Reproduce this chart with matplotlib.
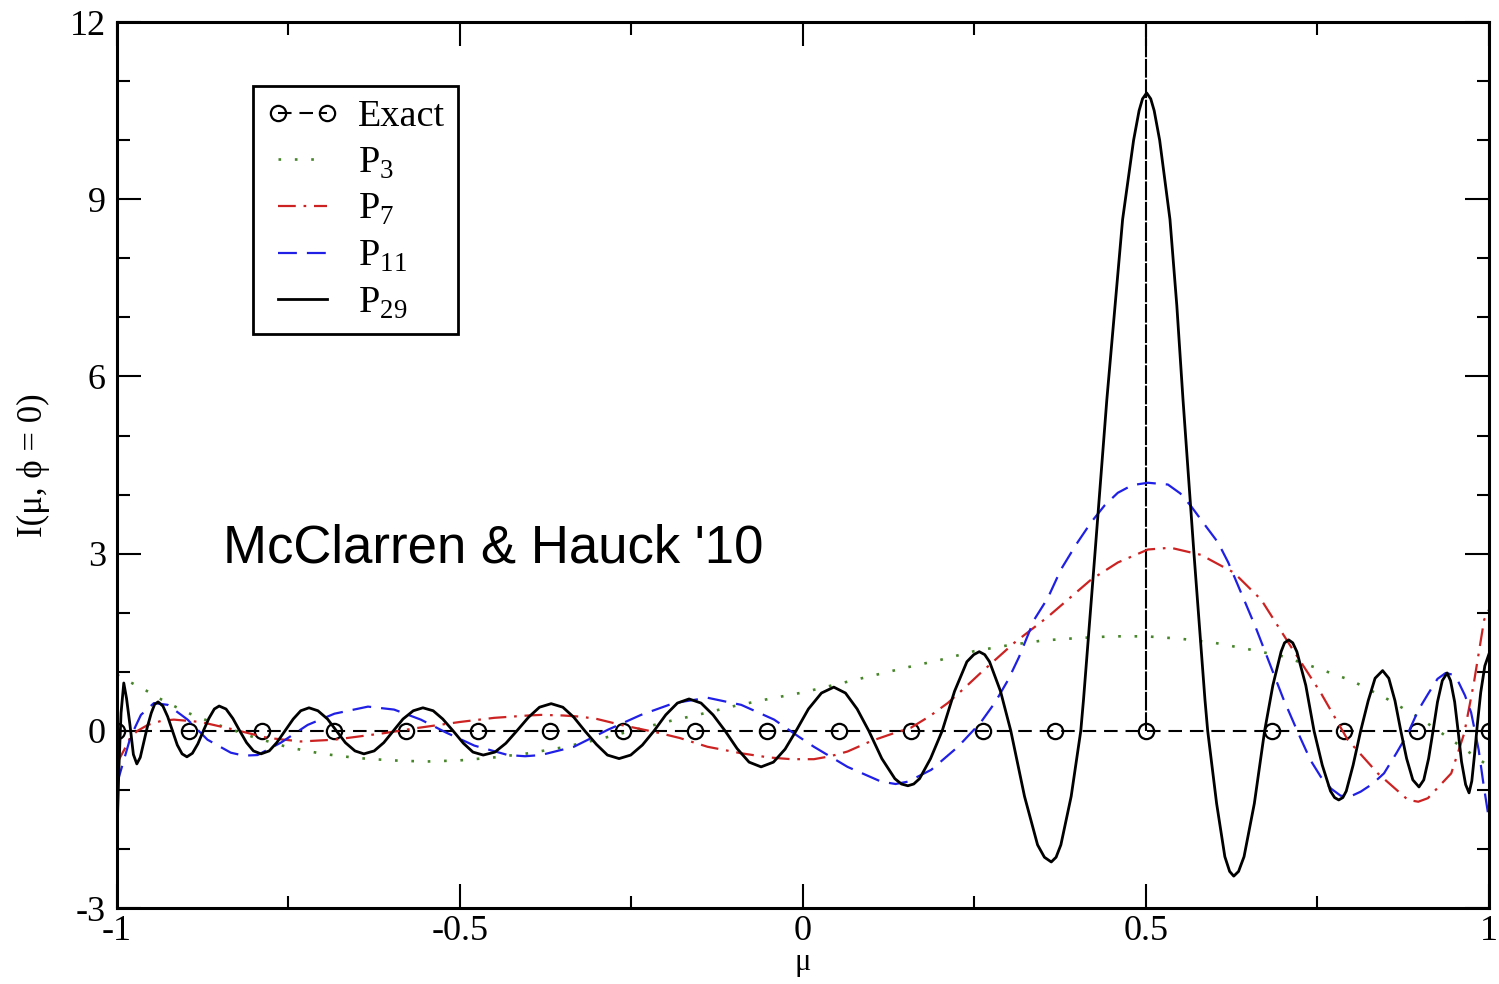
import matplotlib
matplotlib.use("Agg")
import matplotlib.pyplot as plt
from matplotlib.ticker import MultipleLocator

plt.rcParams['font.family'] = ['Liberation Serif', 'DejaVu Serif']
plt.rcParams['mathtext.fontset'] = 'custom'
plt.rcParams['mathtext.rm'] = 'Liberation Serif'
plt.rcParams['axes.unicode_minus'] = False

# --- data ---
# exact solution: zero everywhere with a delta spike at mu = 0.5
exact_mu = [-1.0, -0.895, -0.789, -0.684, -0.579, -0.474, -0.368, -0.263, -0.158,
            -0.053, 0.053, 0.158, 0.263, 0.368, 0.5, 0.684, 0.789, 0.895, 1.0]
exact_val = [0.0] * len(exact_mu)
spike_mu = 0.5
spike_top = 12.0

p3_mu = [-1.0, -0.98, -0.96, -0.94, -0.92, -0.90, -0.85, -0.80, -0.75, -0.70, -0.65,
         -0.60, -0.55, -0.50, -0.45, -0.40, -0.35, -0.30, -0.25, -0.20, -0.15, -0.10,
         -0.05, 0.00, 0.05, 0.10, 0.15, 0.20, 0.25, 0.30, 0.35, 0.40, 0.45, 0.50, 0.55,
         0.60, 0.65, 0.70, 0.75, 0.80, 0.85, 0.90, 0.95, 1.00]
p3_val = [0.95, 0.82, 0.70, 0.56, 0.44, 0.32, 0.09, -0.11, -0.28, -0.39, -0.46,
          -0.50, -0.52, -0.50, -0.45, -0.38, -0.28, -0.15, 0.00, 0.15, 0.28, 0.42,
          0.54, 0.65, 0.79, 0.93, 1.07, 1.20, 1.35, 1.45, 1.53, 1.57, 1.60, 1.60, 1.56,
          1.49, 1.38, 1.26, 1.06, 0.85, 0.55, 0.21, -0.19, -0.60]

p7_mu = [-1.0, -0.987, -0.98, -0.97, -0.955, -0.935, -0.917, -0.878, -0.829, -0.78,
         -0.732, -0.683, -0.611, -0.561, -0.50, -0.45, -0.40, -0.382, -0.35, -0.324,
         -0.30, -0.265, -0.212, -0.18, -0.139, -0.09, -0.05, -0.017, 0.016, 0.04,
         0.065, 0.10, 0.13, 0.157, 0.185, 0.211, 0.235, 0.259, 0.308, 0.357, 0.386,
         0.42, 0.459, 0.503, 0.536, 0.58, 0.628, 0.668, 0.71, 0.755, 0.794, 0.838,
         0.882, 0.897, 0.911, 0.945, 0.964, 0.978, 0.993, 1.0]
p7_val = [-0.55, -0.27, -0.10, 0.00, 0.10, 0.17, 0.19, 0.15, 0.02, -0.12,
          -0.18, -0.15, -0.04, 0.05, 0.15, 0.22, 0.26, 0.27, 0.26, 0.24,
          0.20, 0.10, -0.03, -0.12, -0.27, -0.38, -0.45, -0.48, -0.48, -0.43,
          -0.35, -0.17, -0.05, 0.05, 0.25, 0.47, 0.72, 0.98, 1.49, 1.93, 2.22,
          2.56, 2.85, 3.07, 3.10, 2.98, 2.68, 2.22, 1.45, 0.64, -0.15, -0.72,
          -1.17, -1.20, -1.14, -0.72, -0.04, 0.81, 1.88, 2.05]

p11_mu = [-1.0, -0.997, -0.98, -0.965, -0.946, -0.926, -0.897, -0.868, -0.834, -0.815,
          -0.795, -0.761, -0.722, -0.683, -0.634, -0.596, -0.557, -0.52, -0.479, -0.43,
          -0.405, -0.382, -0.334, -0.284, -0.236, -0.188, -0.139, -0.09, -0.042, -0.006,
          0.016, 0.065, 0.114, 0.135, 0.153, 0.187, 0.226, 0.259, 0.28, 0.299, 0.315,
          0.337, 0.357, 0.376, 0.398, 0.42, 0.44, 0.459, 0.48, 0.503, 0.532, 0.55,
          0.566, 0.585, 0.605, 0.62, 0.643, 0.66, 0.68, 0.70, 0.722, 0.74, 0.755, 0.77,
          0.784, 0.80, 0.813, 0.83, 0.847, 0.865, 0.882, 0.897, 0.911, 0.925, 0.937,
          0.947, 0.955, 0.965, 0.974, 0.985, 0.992, 1.0]
p11_val = [-0.90, -0.78, -0.10, 0.27, 0.47, 0.44, 0.19, -0.15, -0.37, -0.42,
           -0.41, -0.20, 0.10, 0.29, 0.41, 0.36, 0.19, -0.03, -0.25, -0.41,
           -0.43, -0.41, -0.27, 0.02, 0.27, 0.47, 0.56, 0.44, 0.19, -0.10,
           -0.27, -0.61, -0.86, -0.90, -0.86, -0.66, -0.27, 0.14, 0.48, 0.86, 1.25,
           1.88, 2.25, 2.73, 3.15, 3.53, 3.82, 4.03, 4.16, 4.20, 4.17, 4.02,
           3.80, 3.50, 3.19, 2.85, 2.22, 1.75, 1.15, 0.55, -0.04, -0.50, -0.78, -0.98,
           -1.10, -1.10, -1.03, -0.90, -0.72, -0.38, -0.04, 0.35, 0.62, 0.88, 0.98,
           0.95, 0.84, 0.60, 0.31, -0.32, -0.90, -1.50]

p29_mu = [-1.0, -0.997, -0.994, -0.990, -0.986, -0.981, -0.976, -0.971, -0.966, -0.961,
          -0.956, -0.950, -0.945, -0.940, -0.933, -0.926, -0.919, -0.912, -0.905, -0.898,
          -0.890, -0.882, -0.874, -0.866, -0.858, -0.851, -0.841, -0.831, -0.821, -0.811,
          -0.801, -0.790, -0.778, -0.767, -0.755, -0.743, -0.732, -0.720, -0.707, -0.693,
          -0.680, -0.667, -0.653, -0.640, -0.625, -0.611, -0.597, -0.583, -0.568, -0.554,
          -0.539, -0.525, -0.510, -0.495, -0.481, -0.466, -0.449, -0.433, -0.417, -0.400,
          -0.384, -0.367, -0.350, -0.334, -0.318, -0.301, -0.285, -0.268, -0.251, -0.234,
          -0.217, -0.200, -0.183, -0.166, -0.1485, -0.131, -0.1135, -0.096, -0.0785, -0.061,
          -0.043, -0.026, -0.010, 0.008, 0.027, 0.045, 0.062, 0.079, 0.096, 0.115,
          0.134, 0.1435, 0.153, 0.1615, 0.170, 0.186, 0.203, 0.221, 0.239, 0.249,
          0.257, 0.265, 0.272, 0.288, 0.303, 0.323, 0.342, 0.352, 0.362, 0.369,
          0.376, 0.391, 0.405, 0.409, 0.426, 0.443, 0.455, 0.466, 0.482, 0.490,
          0.495, 0.501, 0.507, 0.512, 0.520, 0.535, 0.545, 0.554, 0.570, 0.586,
          0.590, 0.603, 0.615, 0.622, 0.628, 0.635, 0.643, 0.658, 0.673, 0.685,
          0.697, 0.702, 0.708, 0.714, 0.720, 0.733, 0.745, 0.757, 0.769, 0.775,
          0.781, 0.787, 0.792, 0.802, 0.813, 0.824, 0.834, 0.845, 0.854, 0.863,
          0.8715, 0.880, 0.889, 0.898, 0.905, 0.912, 0.9185, 0.925, 0.932, 0.939,
          0.944, 0.950, 0.955, 0.960, 0.966, 0.971, 0.975, 0.979, 0.983, 0.988,
          0.994, 1.0]
p29_val = [-1.80, -0.60, 0.30, 0.81, 0.55, 0.10, -0.40, -0.56, -0.45, -0.20,
           0.05, 0.30, 0.45, 0.49, 0.42, 0.24, 0.00, -0.24, -0.39, -0.44,
           -0.38, -0.22, 0.00, 0.21, 0.37, 0.42, 0.37, 0.21, 0.00, -0.20,
           -0.34, -0.39, -0.34, -0.20, 0.00, 0.20, 0.34, 0.39, 0.34, 0.20,
           0.00, -0.20, -0.34, -0.39, -0.34, -0.20, 0.00, 0.20, 0.34, 0.39,
           0.34, 0.20, 0.00, -0.21, -0.36, -0.41, -0.36, -0.21, 0.00, 0.23,
           0.40, 0.46, 0.40, 0.23, 0.00, -0.23, -0.41, -0.47, -0.41, -0.24,
           0.00, 0.27, 0.47, 0.54, 0.47, 0.27, 0.00, -0.30, -0.53, -0.61,
           -0.53, -0.31, 0.00, 0.37, 0.64, 0.74, 0.64, 0.37, 0.00, -0.47,
           -0.81, -0.90, -0.93, -0.90, -0.81, -0.47, 0.00, 0.67, 1.17, 1.29,
           1.34, 1.29, 1.17, 0.67, 0.00, -1.11, -1.93, -2.14, -2.22, -2.14,
           -1.93, -1.11, 0.00, 0.53, 3.05, 5.61, 7.20, 8.66, 10.00, 10.50,
           10.70, 10.80, 10.70, 10.50, 10.00, 8.66, 7.20, 5.61, 3.00, 0.53,
           0.00, -1.23, -2.13, -2.38, -2.46, -2.38, -2.13, -1.23, 0.00, 0.77,
           1.34, 1.49, 1.54, 1.49, 1.34, 0.77, 0.00, -0.58, -1.02, -1.13,
           -1.17, -1.13, -1.02, -0.58, 0.00, 0.51, 0.89, 1.02, 0.89, 0.51,
           0.00, -0.47, -0.83, -0.95, -0.83, -0.47, 0.00, 0.49, 0.85, 0.98,
           0.85, 0.49, 0.00, -0.52, -0.91, -1.05, -0.85, -0.40, 0.10, 0.65,
           1.10, 1.30]

x_ticks = [-1, -0.5, 0, 0.5, 1]
x_tick_labels = ['-1', '-0.5', '0', '0.5', '1']
y_ticks = [-3, 0, 3, 6, 9, 12]

# --- plot ---
fig = plt.figure(figsize=(14.99, 9.84), dpi=100)
ax = fig.add_axes([0.078, 0.0772, 0.9153, 0.9004])

ax.plot(exact_mu, exact_val, color='black', lw=1.5, dashes=(6.5, 3.8),
        marker='o', mfc='none', mec='black', ms=11, mew=1.6, label='Exact')
ax.vlines(spike_mu, 0, spike_top, color='black', lw=1.5, linestyles=[(0, (9, 0.8))])
ax.plot(p3_mu, p3_val, color='#47852a', lw=1.9, dashes=(1, 5.2), label=r'P$_{\mathrm{3}}$')
ax.plot(p7_mu, p7_val, color='#cc2222', lw=1.6, dashes=(8, 3.5, 1.2, 3.5), label=r'P$_{\mathrm{7}}$')
ax.plot(p11_mu, p11_val, color='#1f1fe6', lw=1.6, dashes=(8.5, 4.5), label=r'P$_{\mathrm{11}}$')
ax.plot(p29_mu, p29_val, color='black', lw=2.0, label=r'P$_{\mathrm{29}}$')

ax.set_xlim(-1, 1)
ax.set_ylim(-3, 12)
ax.set_xticks(x_ticks)
ax.set_xticklabels(x_tick_labels)
ax.set_yticks(y_ticks)
ax.xaxis.set_minor_locator(MultipleLocator(0.25))
ax.yaxis.set_minor_locator(MultipleLocator(1))
ax.tick_params(which='both', direction='in', top=True, right=True, labelsize=26, width=1.5)
ax.tick_params(which='major', length=17)
ax.tick_params(axis='x', which='major', pad=5)
ax.tick_params(axis='y', which='major', pad=8)
ax.tick_params(which='minor', length=9)
for s in ax.spines.values():
    s.set_linewidth(2.2)

ax.set_xlabel('μ', fontsize=22, labelpad=0)
ax.set_ylabel('I(μ, ϕ = 0)', fontsize=25, labelpad=14)

ax.text(-0.845, 2.85, "McClarren & Hauck '10", family='Liberation Sans', fontsize=38,
        ha='left', va='baseline')

leg = ax.legend(loc='upper left', bbox_to_anchor=(0.099, 0.928), borderaxespad=0,
                fontsize=27.5, fancybox=False, edgecolor='black', framealpha=1,
                handlelength=1.9, handletextpad=0.5, borderpad=0.35, labelspacing=0.3,
                numpoints=2)
leg.get_frame().set_linewidth(2.0)

fig.savefig('out.png', dpi=100)
